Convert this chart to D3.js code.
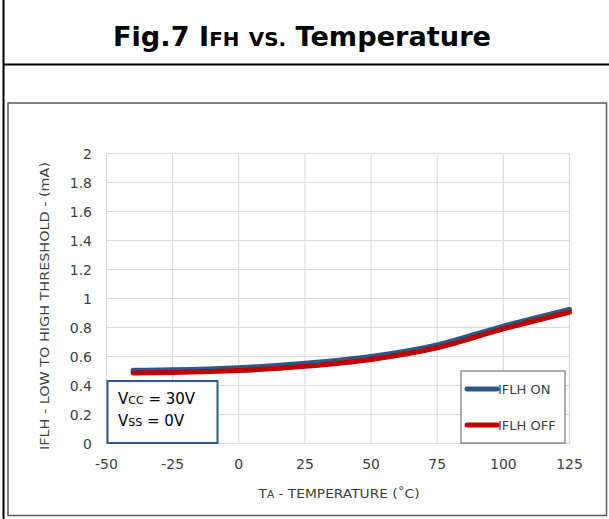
<!DOCTYPE html>
<html lang="en">
<head>
  <meta charset="UTF-8">
  <title>Fig.7 IFH vs. Temperature</title>
  <style>
    body { margin: 0; background: #fff; font-family: "DejaVu Sans", sans-serif; }
    .grid line { stroke: #d9d9d9; stroke-width: 1; }
    .tick-label { fill: #404040; font-size: 14px; }
    .line { fill: none; stroke-width: 5px; stroke-linejoin: round; stroke-linecap: round; }
  </style>
</head>
<body>
<script src="https://d3js.org/d3.v7.min.js"></script>
<script>
// values
const temps = [-40, -25, 0, 25, 50, 75, 100, 125]
const iflhOn = [0.505, 0.508, 0.522, 0.553, 0.600, 0.680, 0.810, 0.925]
const iflhOff = [0.487, 0.490, 0.503, 0.533, 0.580, 0.660, 0.790, 0.905]
const xTicks = [-50, -25, 0, 25, 50, 75, 100, 125]
const yTicks = [0, 0.2, 0.4, 0.6, 0.8, 1, 1.2, 1.4, 1.6, 1.8, 2]
const seriesNames = ['IFLH ON', 'IFLH OFF']
const seriesColors = ['#2a5a8c', '#c00000']

const W = 609, H = 519
const svg = d3.select('body').append('svg')
  .attr('width', W).attr('height', H)

// outer frame + title band
svg.append('line').attr('x1', 3.5).attr('x2', 3.5).attr('y1', 0).attr('y2', H).attr('stroke', '#000').attr('stroke-width', 2)
svg.append('line').attr('x1', 3).attr('x2', W).attr('y1', 64.5).attr('y2', 64.5).attr('stroke', '#000').attr('stroke-width', 2)

const title = svg.append('text')
  .attr('x', 302).attr('y', 46)
  .attr('text-anchor', 'middle')
  .attr('textLength', 378).attr('lengthAdjust', 'spacingAndGlyphs')
  .attr('font-size', 26).attr('font-weight', 'bold').attr('fill', '#000')
title.append('tspan').text('Fig.7 I')
title.append('tspan').attr('font-size', 19).text('FH')
title.append('tspan').text(' ')
title.append('tspan').attr('font-size', 19).text('VS.')
title.append('tspan').text(' Temperature')

// chart box
svg.append('rect').attr('x', 8).attr('y', 103).attr('width', 598.5).attr('height', 412.5)
  .attr('fill', 'none').attr('stroke', '#595959').attr('stroke-width', 1.5)

const x = d3.scaleLinear().domain([-50, 125]).range([106.5, 569.5])
const y = d3.scaleLinear().domain([0, 2]).range([443.5, 153.5])

const grid = svg.append('g').attr('class', 'grid')
grid.selectAll('.gx').data(xTicks).join('line')
  .attr('x1', d => x(d)).attr('x2', d => x(d))
  .attr('y1', y(0)).attr('y2', y(2))
grid.selectAll('.gy').data(yTicks).join('line')
  .attr('x1', x(-50)).attr('x2', x(125))
  .attr('y1', d => y(d)).attr('y2', d => y(d))

svg.append('g').selectAll('text').data(yTicks).join('text')
  .attr('class', 'tick-label')
  .attr('x', 92).attr('y', d => y(d) + 5)
  .attr('text-anchor', 'end')
  .text(d => d3.format('~g')(d))

svg.append('g').selectAll('text').data(xTicks).join('text')
  .attr('class', 'tick-label')
  .attr('x', d => x(d)).attr('y', 469)
  .attr('text-anchor', 'middle')
  .text(d => d)

// axis titles
const xt = svg.append('text')
  .attr('x', 339).attr('y', 498).attr('text-anchor', 'middle')
  .attr('textLength', 161).attr('lengthAdjust', 'spacingAndGlyphs')
  .attr('font-size', 13).attr('fill', '#404040')
xt.append('tspan').text('T')
xt.append('tspan').attr('font-size', 10).text('A')
xt.append('tspan').text(' - TEMPERATURE (˚C)')

svg.append('text')
  .attr('transform', 'translate(49,306) rotate(-90)')
  .attr('text-anchor', 'middle')
  .attr('textLength', 288).attr('lengthAdjust', 'spacingAndGlyphs')
  .attr('font-size', 13).attr('fill', '#404040')
  .text('IFLH - LOW TO HIGH THRESHOLD - (mA)')

// curves
const line = d3.line().x((d, i) => x(temps[i])).y(d => y(d)).curve(d3.curveMonotoneX)
;[iflhOn, iflhOff].forEach((vals, i) => {
  svg.append('path').attr('class', 'line')
    .attr('stroke', seriesColors[i])
    .attr('d', line(vals))
})

// condition box
svg.append('rect').attr('x', 107.5).attr('y', 381).attr('width', 110).attr('height', 62)
  .attr('fill', '#fff').attr('stroke', '#2f5a8a').attr('stroke-width', 2)
const cond = [['V', 'CC', ' = 30V'], ['V', 'SS', ' = 0V']]
cond.forEach((c, i) => {
  const t = svg.append('text').attr('x', 118).attr('y', 404 + i * 22)
    .attr('font-size', 15).attr('fill', '#000')
  t.append('tspan').text(c[0])
  t.append('tspan').attr('font-size', 11).text(c[1])
  t.append('tspan').text(c[2])
})

// legend
svg.append('rect').attr('x', 461).attr('y', 371).attr('width', 104).attr('height', 72)
  .attr('fill', '#fff').attr('stroke', '#595959').attr('stroke-width', 1)
seriesNames.forEach((name, i) => {
  const ly = 389 + i * 36
  svg.append('line').attr('x1', 467).attr('x2', 497).attr('y1', ly).attr('y2', ly)
    .attr('stroke', seriesColors[i]).attr('stroke-width', 5).attr('stroke-linecap', 'round')
  svg.append('text').attr('x', 498).attr('y', ly + 5)
    .attr('font-size', 13).attr('fill', '#404040').text(name)
})
</script>
</body>
</html>
